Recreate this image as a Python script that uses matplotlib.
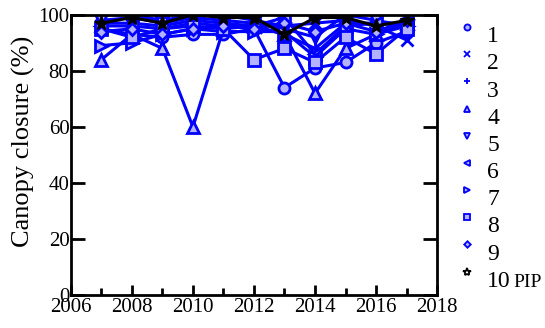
import matplotlib.pyplot as plt
import numpy as np
from matplotlib.ticker import MultipleLocator

plt.rcParams['font.family'] = ['Liberation Serif', 'DejaVu Serif']

years = [2007, 2008, 2009, 2010, 2011, 2012, 2013, 2014, 2015, 2016, 2017]

s1 = [95, 93, 92, 93, 93, 95, 74, 81, 83, 90, 94]
s2 = [100, 100, 98, 100, 100, 98, 96, 97, 98, 96, 91]
s3 = [97, 97, 96, 98, 97, 96, 93, 88, 97, 97, 96]
s4 = [84, 93, 88, 60, 95, 96, 93, 72, 88, 93, 97]
s5 = [98, 99, 97, 99, 98, 97, 95, 92, 100, 98, 96]
s6 = [96, 96, 95, 97, 96, 96, 99, 86, 96, 97, 97]
s7 = [89, 90, 93, 95, 94, 94, 94, 85, 95, 93, 96]
s8 = [95, 92, 95, 96, 95, 84, 88, 83, 92, 86, 95]
s9 = [94, 95, 93, 95, 96, 95, 97, 94, 97, 94, 98]
pip = [97, 99, 97, 100, 99, 99, 93, 99, 99, 96, 98]

series = [s1, s2, s3, s4, s5, s6, s7, s8, s9]
labels = ['1', '2', '3', '4', '5', '6', '7', '8', '9']
markers = ['o', 'x', '+', '^', 'v', '<', '>', 's', 'D']

fig = plt.figure(figsize=(5.45, 3.28), dpi=100)
ax = fig.add_axes([0.130, 0.10, 0.672, 0.855])

for vals, lab, m in zip(series, labels, markers):
    ms = 6 if m == 'D' else 8
    ax.plot(years, vals, color='blue', lw=2.2, marker=m, ms=ms, mew=2,
            mfc=(0.7, 0.7, 1.0), mec='blue', label=lab)
ax.plot(years, pip, color='black', lw=2.2, marker='*', ms=11, mew=1,
        mfc='black', mec='black', label='10', zorder=5)

ax.set_xlim(2006, 2018)
ax.set_ylim(0, 100)
ax.xaxis.set_major_locator(MultipleLocator(2))
ax.xaxis.set_minor_locator(MultipleLocator(1))
ax.yaxis.set_major_locator(MultipleLocator(20))
ax.tick_params(which='both', direction='in', top=True, right=True,
               labelsize=15, width=2)
ax.tick_params(axis='y', pad=1)
ax.tick_params(axis='x', pad=2)
ax.tick_params(which='major', axis='y', length=10)
ax.tick_params(which='major', axis='x', length=7)
ax.tick_params(which='minor', length=5)
for sp in ax.spines.values():
    sp.set_linewidth(2)

ax.set_ylabel('Canopy closure (%)', fontsize=19)
ax.yaxis.set_label_coords(-0.098, 0.55)

leg = ax.legend(loc='upper left', bbox_to_anchor=(1.04, 0.995), frameon=False,
                fontsize=17, handlelength=0.5, handletextpad=0.6,
                labelspacing=0.24, borderaxespad=0, markerscale=0.55)
for h in leg.legend_handles:
    h.set_linestyle('none')
    h.set_markeredgewidth(1.3)
    # markers sit a little above the label centre, as in the source figure
    h.set_ydata(np.asarray(h.get_ydata()) + 5)
leg.legend_handles[-1].set_markerfacecolor('white')

# smaller "PIP" after the last legend label
fig.canvas.draw()
bb = leg.get_texts()[-1].get_window_extent()
fig.text((bb.x1 + 3) / fig.bbox.width, (bb.y0 + 5) / fig.bbox.height, 'PIP',
         fontsize=14, ha='left', va='baseline')

fig.savefig('out.png', dpi=100)
